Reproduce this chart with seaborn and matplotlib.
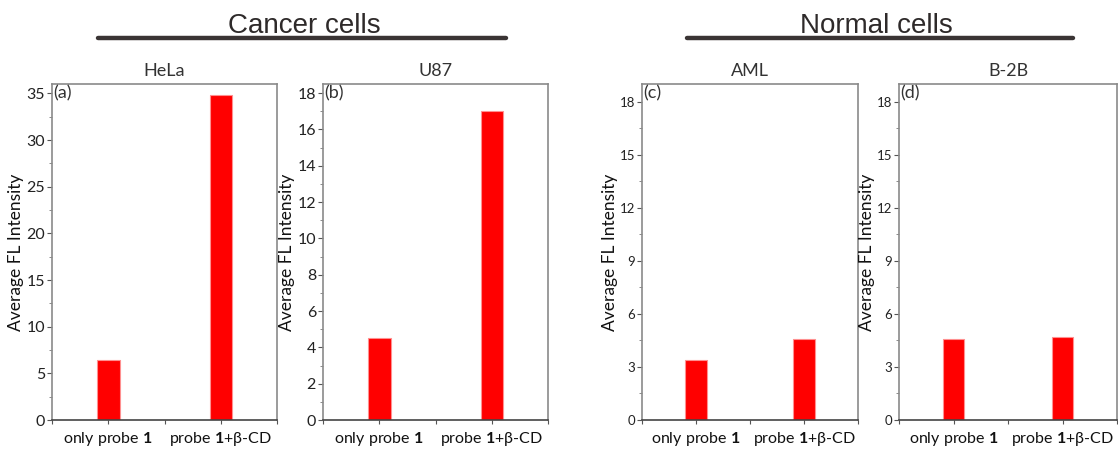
import matplotlib
matplotlib.use("Agg")
import matplotlib.pyplot as plt
from matplotlib.ticker import MultipleLocator
from matplotlib.lines import Line2D
import pandas as pd
import seaborn as sns

# Treatment groups shown on every panel
conditions = ["only probe $\\mathbf{1}$", "probe $\\mathbf{1}$+\u03b2-CD"]

# Average FL intensity per cell line
hela = [6.44, 34.8]
u87 = [4.5, 17.0]
aml = [3.42, 4.57]
b2b = [4.57, 4.68]

cell_lines = ["HeLa", "U87", "AML", "B-2B"]
panel_tags = ["(a)", "(b)", "(c)", "(d)"]
group_titles = ["Cancer cells", "Normal cells"]

sns.set_theme(style="ticks")
plt.rcParams["font.family"] = ["Lato", "DejaVu Sans"]
plt.rcParams["mathtext.fontset"] = "custom"
plt.rcParams["mathtext.rm"] = "Lato"
plt.rcParams["mathtext.bf"] = "Lato:bold"

W, H = 1118, 449
fig = plt.figure(figsize=(W / 100, H / 100), dpi=100)

# panel boxes in pixels: left, right, top, bottom
boxes = [(52, 277, 84, 420), (323, 548, 84, 420),
         (642, 858, 84, 420), (899, 1117, 84, 420)]
values = [hela, u87, aml, b2b]
ylims = [36, 18.5, 19, 19]
majors = [5, 2, 3, 3]
tick_sizes = [11.5, 11.5, 9.5, 9.5]
label_pads = [2, 2, 1, 1]

for i, (box, vals) in enumerate(zip(boxes, values)):
    l, r, t, b = box
    ax = fig.add_axes([l / W, 1 - b / H, (r - l) / W, (b - t) / H])
    df = pd.DataFrame({"condition": conditions, "intensity": vals})
    sns.barplot(data=df, x="condition", y="intensity", color="#ff0000",
                width=0.2, edgecolor="#ff9090", linewidth=0.8,
                saturation=1, ax=ax)
    ax.set_xlim(-0.5, 1.5)
    ax.set_ylim(0, ylims[i])
    ax.yaxis.set_major_locator(MultipleLocator(majors[i]))
    ax.yaxis.set_minor_locator(MultipleLocator(majors[i] / 2))
    ax.xaxis.set_minor_locator(MultipleLocator(0.5))
    ax.tick_params(axis="y", which="major", length=3.5, width=0.8,
                   color="#555555", labelsize=tick_sizes[i], pad=1.5,
                   labelcolor="#222222")
    ax.tick_params(axis="y", which="minor", length=2, width=0.6,
                   color="#777777")
    ax.tick_params(axis="x", which="both", length=3, width=0.8,
                   color="#555555", labelsize=11.5, pad=4,
                   labelcolor="#111111")
    for side in ["top", "right", "left"]:
        ax.spines[side].set_visible(True)
        ax.spines[side].set_color("#8a8a8a")
        ax.spines[side].set_linewidth(1.2)
    ax.spines["bottom"].set_color("#444444")
    ax.spines["bottom"].set_linewidth(1.2)
    ax.set_xlabel("")
    ax.set_ylabel("Average FL Intensity", fontsize=12.5,
                  labelpad=label_pads[i], color="#111111")
    ax.set_title(cell_lines[i], fontsize=13, pad=6, color="#333333")
    ax.text(0.005, 0.995, panel_tags[i], transform=ax.transAxes,
            ha="left", va="top", fontsize=13, color="#333333")

# group headers with underline bars
headers = [(group_titles[0], 98, 506, 304), (group_titles[1], 687, 1073, 876)]
for text, x0, x1, xc in headers:
    fig.add_artist(Line2D([x0 / W, x1 / W], [1 - 38 / H, 1 - 38 / H],
                          color="#3a3434", linewidth=3.2,
                          transform=fig.transFigure))
    fig.text(xc / W, 1 - 26 / H, text, ha="center", va="center",
             fontsize=20, color="#2e2a2a", family="Liberation Sans")

fig.savefig("out.png", dpi=100, facecolor="white")
